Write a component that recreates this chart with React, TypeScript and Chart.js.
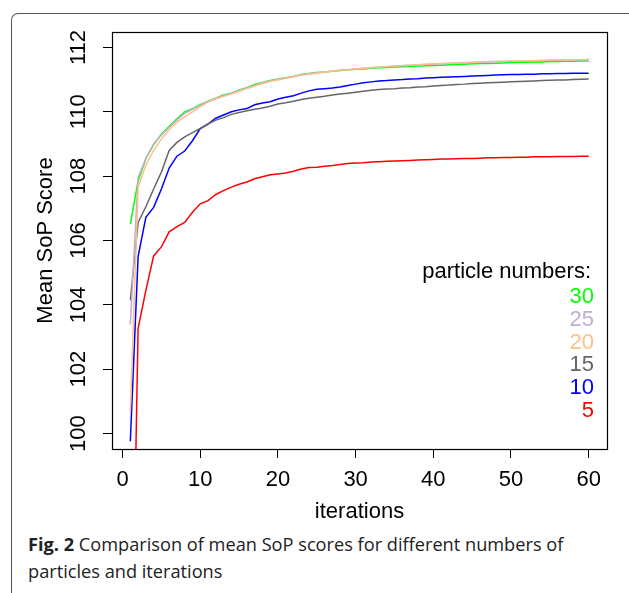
import React, { useEffect, useRef } from 'react';
import { Chart, registerables } from 'chart.js';
Chart.register(...registerables);

const FONT = "'Liberation Sans', Arial, Helvetica, sans-serif";

const iterations = [
  1, 2, 3, 4, 5, 6, 7, 8, 9, 10, 11, 12, 13, 14, 15, 16, 17, 18, 19, 20,
  21, 22, 23, 24, 25, 26, 27, 28, 29, 30, 31, 32, 33, 34, 35, 36, 37, 38, 39, 40,
  41, 42, 43, 44, 45, 46, 47, 48, 49, 50, 51, 52, 53, 54, 55, 56, 57, 58, 59, 60,
];

const p30 = [
  106.51, 107.85, 108.55, 108.98, 109.3, 109.55, 109.78, 110.0, 110.1, 110.22,
  110.33, 110.42, 110.52, 110.58, 110.68, 110.75, 110.85, 110.91, 110.97, 111.02,
  111.06, 111.1, 111.16, 111.19, 111.22, 111.24, 111.26, 111.28, 111.3, 111.32,
  111.33, 111.35, 111.37, 111.38, 111.39, 111.4, 111.41, 111.42, 111.43, 111.44,
  111.45, 111.46, 111.47, 111.48, 111.49, 111.5, 111.5, 111.51, 111.52, 111.53,
  111.54, 111.54, 111.55, 111.55, 111.56, 111.56, 111.57, 111.57, 111.58, 111.58,
];
const p25 = [
  103.39, 107.95, 108.55, 109.0, 109.28, 109.52, 109.75, 109.95, 110.08, 110.2,
  110.32, 110.42, 110.5, 110.58, 110.66, 110.74, 110.82, 110.9, 110.96, 111.01,
  111.05, 111.1, 111.15, 111.18, 111.21, 111.24, 111.27, 111.29, 111.31, 111.33,
  111.35, 111.37, 111.39, 111.4, 111.42, 111.43, 111.45, 111.46, 111.47, 111.48,
  111.49, 111.5, 111.51, 111.52, 111.53, 111.54, 111.55, 111.56, 111.56, 111.57,
  111.58, 111.58, 111.59, 111.59, 111.6, 111.6, 111.61, 111.61, 111.62, 111.62,
];
const p20 = [
  100.68, 107.65, 108.35, 108.8, 109.15, 109.45, 109.68, 109.84, 110.0, 110.16,
  110.3, 110.4, 110.48, 110.55, 110.64, 110.72, 110.8, 110.88, 110.94, 110.99,
  111.04, 111.08, 111.14, 111.17, 111.2, 111.23, 111.26, 111.29, 111.31, 111.33,
  111.35, 111.37, 111.39, 111.41, 111.42, 111.44, 111.45, 111.46, 111.48, 111.49,
  111.5, 111.51, 111.52, 111.53, 111.54, 111.55, 111.56, 111.56, 111.57, 111.58,
  111.58, 111.59, 111.59, 111.6, 111.6, 111.61, 111.61, 111.62, 111.62, 111.63,
];
const p15 = [
  104.14, 106.56, 107.05, 107.6, 108.13, 108.8, 109.05, 109.22, 109.35, 109.48,
  109.62, 109.74, 109.82, 109.92, 109.98, 110.03, 110.08, 110.12, 110.17, 110.24,
  110.28, 110.33, 110.38, 110.42, 110.45, 110.48, 110.52, 110.55, 110.58, 110.61,
  110.64, 110.67, 110.69, 110.71, 110.72, 110.74, 110.75, 110.77, 110.78, 110.8,
  110.82, 110.83, 110.85, 110.86, 110.88, 110.89, 110.9, 110.91, 110.92, 110.93,
  110.94, 110.95, 110.96, 110.97, 110.98, 110.99, 110.99, 111.0, 111.01, 111.02,
];
const p10 = [
  99.76, 105.5, 106.72, 107.03, 107.6, 108.25, 108.62, 108.78, 109.1, 109.48,
  109.62, 109.8, 109.9, 110.0, 110.06, 110.1, 110.22, 110.27, 110.31, 110.4,
  110.45, 110.5, 110.58, 110.65, 110.7, 110.72, 110.74, 110.77, 110.82, 110.86,
  110.9, 110.93, 110.96, 110.97, 110.99, 111.0, 111.02, 111.03, 111.05, 111.06,
  111.07, 111.08, 111.09, 111.1, 111.11, 111.12, 111.13, 111.14, 111.15, 111.16,
  111.16, 111.17, 111.17, 111.18, 111.18, 111.19, 111.19, 111.2, 111.2, 111.2,
];
const p5 = [
  89.9, 103.27, 104.45, 105.52, 105.8, 106.27, 106.43, 106.56, 106.88, 107.14,
  107.24, 107.43, 107.55, 107.66, 107.75, 107.82, 107.92, 107.98, 108.04, 108.07,
  108.1, 108.15, 108.22, 108.27, 108.28, 108.31, 108.33, 108.36, 108.39, 108.41,
  108.42, 108.44, 108.45, 108.46, 108.47, 108.48, 108.49, 108.5, 108.51, 108.52,
  108.53, 108.53, 108.54, 108.55, 108.55, 108.56, 108.57, 108.57, 108.58, 108.58,
  108.59, 108.59, 108.6, 108.6, 108.6, 108.61, 108.61, 108.61, 108.62, 108.62,
];

const seriesLabels = ['30', '25', '20', '15', '10', '5'];
const seriesColors = ['#00ff00', '#beaed4', '#fdc086', '#666666', '#0000ff', '#ff0000'];
const seriesValues = [p30, p25, p20, p15, p10, p5];
// drawing order: first dataset on top
const drawOrder = [2, 1, 0, 3, 4, 5];

const xTicks = [0, 10, 20, 30, 40, 50, 60];
const yTicks = [100, 102, 104, 106, 108, 110, 112];

const legendTitle = 'particle numbers:';
const FS = 22;

const boxPlugin = {
  id: 'rbox',
  afterDraw(chart: any) {
    const { ctx, chartArea: a } = chart;
    ctx.save();
    ctx.strokeStyle = '#000';
    ctx.lineWidth = 1.2;
    const l = Math.round(a.left) + 0.5;
    const t = Math.round(a.top) + 0.5;
    const r = Math.round(a.right) + 0.5;
    const b = Math.round(a.bottom) + 0.5;
    ctx.strokeRect(l, t, r - l, b - t);
    // legend text
    ctx.font = `${FS}px ${FONT}`;
    ctx.textAlign = 'right';
    ctx.textBaseline = 'alphabetic';
    ctx.fillStyle = '#000';
    ctx.fillText(legendTitle, 591, 277.7);
    seriesLabels.forEach((lab, i) => {
      ctx.fillStyle = seriesColors[i];
      ctx.fillText(lab, 594, 303.3 + i * 22.67);
    });
    ctx.restore();
  },
};

function App() {
  const ref = useRef<HTMLCanvasElement | null>(null);
  useEffect(() => {
    if (!ref.current) return;
    const datasets = drawOrder.map((i) => ({
      label: seriesLabels[i],
      data: iterations.map((x, k) => ({ x, y: seriesValues[i][k] })),
      borderColor: seriesColors[i],
      backgroundColor: seriesColors[i],
      borderWidth: 1.5,
      pointRadius: 0,
      tension: 0,
      fill: false,
    }));
    const tickFont = { family: FONT, size: FS };
    const chart = new Chart(ref.current, {
      type: 'line',
      data: { datasets },
      plugins: [boxPlugin],
      options: {
        animation: false,
        responsive: false,
        devicePixelRatio: 1,
        layout: { autoPadding: false, padding: { left: 0, top: 32, right: 22, bottom: 0 } },
        plugins: { legend: { display: false }, tooltip: { enabled: false } },
        scales: {
          x: {
            type: 'linear',
            min: -1.36,
            max: 62.36,
            afterBuildTicks: (s: any) => { s.ticks = xTicks.map((v) => ({ value: v })); },
            afterFit: (s: any) => { s.height = 81; },
            ticks: { autoSkip: false, maxRotation: 0, minRotation: 0, color: '#000', font: tickFont, padding: 9, callback: (v: any) => String(v) },
            grid: { display: true, drawOnChartArea: false, drawTicks: true, tickLength: 9, color: '#000', lineWidth: 1 },
            border: { display: false },
            title: { display: true, text: 'iterations', color: '#000', font: tickFont, padding: { top: 0, bottom: 4.5 } },
          },
          y: {
            type: 'linear',
            min: 99.52,
            max: 112.48,
            afterBuildTicks: (s: any) => { s.ticks = yTicks.map((v) => ({ value: v })); },
            afterFit: (s: any) => { s.width = 112; },
            ticks: { autoSkip: false, minRotation: 90, maxRotation: 90, crossAlign: 'center', color: '#000', font: tickFont, padding: 5.6, callback: (v: any) => String(v) },
            grid: { display: true, drawOnChartArea: false, drawTicks: true, tickLength: 9, color: '#000', lineWidth: 1 },
            border: { display: false },
            title: { display: true, text: 'Mean SoP Score', color: '#000', font: tickFont, padding: { top: 33, bottom: 0 } },
          },
        },
      } as any,
    });
    return () => chart.destroy();
  }, []);

  return (
    <div style={{ position: 'absolute', left: 0, top: 0, width: 629, height: 593, background: '#fff', overflow: 'hidden' }}>
      <div style={{ position: 'absolute', left: 11, top: 13, width: 700, height: 700, borderLeft: '1px solid #555', borderTop: '1px solid #555', borderTopLeftRadius: 7 }} />
      <canvas ref={ref} width={629} height={530} style={{ position: 'absolute', left: 0, top: 0, width: 629, height: 530 }} />
      <div style={{ position: 'absolute', left: 28, top: 531, fontFamily: "'Open Sans', sans-serif", fontSize: 18.2, lineHeight: '26.7px', color: '#222', whiteSpace: 'nowrap' }}>
        <b>Fig. 2</b> Comparison of mean SoP scores for different numbers of<br />particles and iterations
      </div>
    </div>
  );
}

export default App;
